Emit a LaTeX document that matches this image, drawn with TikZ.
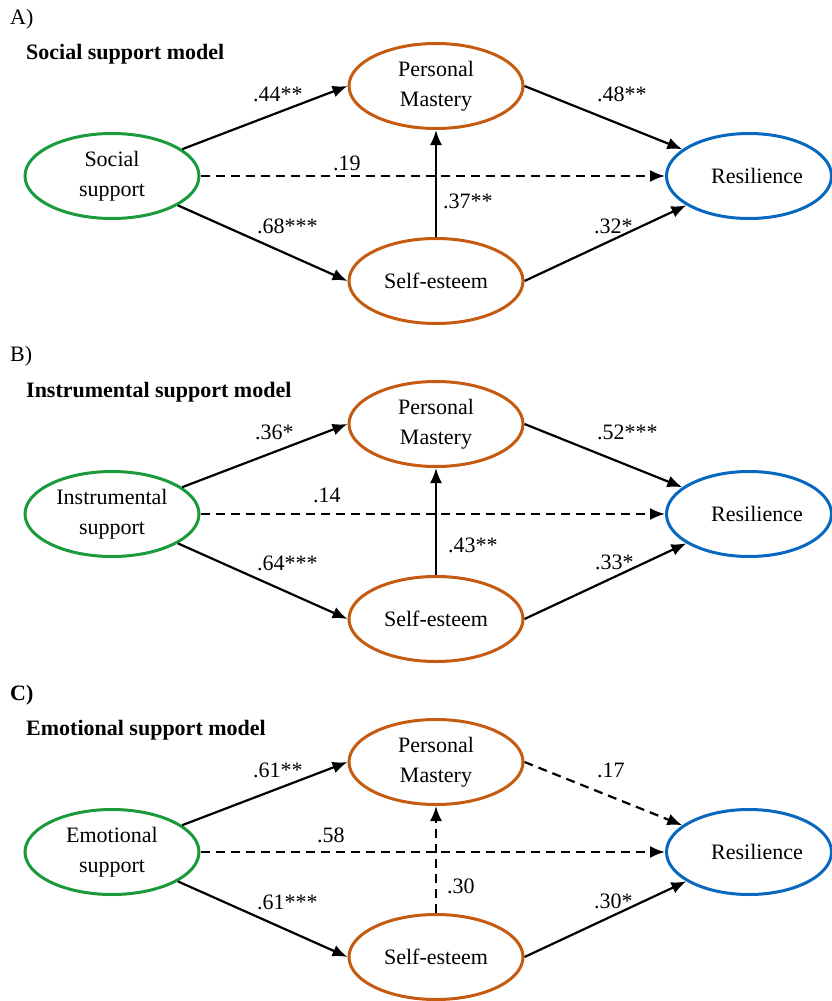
\documentclass[tikz,border=0pt]{standalone}
\usepackage{fontspec}
\setmainfont{Liberation Serif}
\usetikzlibrary{shapes.geometric,arrows.meta}
\definecolor{cgreen}{HTML}{1A9A3A}
\definecolor{corange}{HTML}{C55A11}
\definecolor{cblue}{HTML}{0868C0}
\begin{document}
\begin{tikzpicture}[x=1pt,y=-1pt,
  every node/.style={font=\fontsize{22}{30}\selectfont},
  latent/.style={ellipse,draw,line width=3pt,minimum width=174pt,minimum height=85pt,inner sep=0pt,align=center},
  srcnode/.style={latent,draw=cgreen},
  mednode/.style={latent,draw=corange},
  outnode/.style={latent,draw=cblue,minimum width=165pt},
  path/.style={line width=2.2pt,-{Latex[length=15pt,width=12pt]}},
  nspath/.style={path,dash pattern=on 9pt off 6pt},
  coef/.style={anchor=base west,inner sep=0pt},
  panel/.style={anchor=base west,inner sep=0pt},
  heading/.style={anchor=base west,inner sep=0pt,font=\fontsize{22}{30}\selectfont\bfseries}]
\useasboundingbox (0,0) rectangle (832,1001);

% ---------- Panel A ----------
\node[panel] (labA) at (10,24) {A)};
\node[heading] (headA) at (26,59) {Social support model};
\node[srcnode] (socA) at (112,176) {Social\\support};
\node[mednode] (pmA) at (436,86) {Personal\\Mastery};
\node[mednode] (seA) at (436,281) {Self-esteem};
\node[outnode] (resA) at (749,176) {\hspace*{16pt}Resilience};
\draw[path] (socA) -- (pmA.west);
\draw[path] (socA) -- (seA.west);
\draw[nspath] (socA.east) -- (resA.west);
\draw[path] (pmA.east) -- (resA);
\draw[path] (seA.east) -- (resA);
\draw[path] (seA.north) -- (pmA.south);
\node[coef] (a1) at (253,101) {.44**};
\node[coef] (a2) at (333,170) {.19};
\node[coef] (a3) at (257,233) {.68***};
\node[coef] (a4) at (597,101) {.48**};
\node[coef] (a5) at (443,208) {.37**};
\node[coef] (a6) at (594,233) {.32*};

% ---------- Panel B ----------
\node[panel] (labB) at (10,361) {B)};
\node[heading] (headB) at (26,397) {Instrumental support model};
\node[srcnode] (socB) at (112,514) {Instrumental\\support};
\node[mednode] (pmB) at (436,424) {Personal\\Mastery};
\node[mednode] (seB) at (436,619) {Self-esteem};
\node[outnode] (resB) at (749,514) {\hspace*{16pt}Resilience};
\draw[path] (socB) -- (pmB.west);
\draw[path] (socB) -- (seB.west);
\draw[nspath] (socB.east) -- (resB.west);
\draw[path] (pmB.east) -- (resB);
\draw[path] (seB.east) -- (resB);
\draw[path] (seB.north) -- (pmB.south);
\node[coef] (b1) at (255,439) {.36*};
\node[coef] (b2) at (313,502) {.14};
\node[coef] (b3) at (257,570) {.64***};
\node[coef] (b4) at (597,439) {.52***};
\node[coef] (b5) at (448,552) {.43**};
\node[coef] (b6) at (595,569) {.33*};

% ---------- Panel C ----------
\node[panel,font=\fontsize{22}{30}\selectfont\bfseries] (labC) at (10,700) {C)};
\node[heading] (headC) at (26,735) {Emotional support model};
\node[srcnode] (socC) at (112,852) {Emotional\\support};
\node[mednode] (pmC) at (436,762) {Personal\\Mastery};
\node[mednode] (seC) at (436,957) {Self-esteem};
\node[outnode] (resC) at (749,852) {\hspace*{16pt}Resilience};
\draw[path] (socC) -- (pmC.west);
\draw[path] (socC) -- (seC.west);
\draw[nspath] (socC.east) -- (resC.west);
\draw[nspath] (pmC.east) -- (resC);
\draw[path] (seC.east) -- (resC);
\draw[nspath] (seC.north) -- (pmC.south);
\node[coef] (c1) at (253,777) {.61**};
\node[coef] (c2) at (317,842) {.58};
\node[coef] (c3) at (257,909) {.61***};
\node[coef] (c4) at (597,777) {.17};
\node[coef] (c5) at (447,893) {.30};
\node[coef] (c6) at (594,908) {.30*};
\end{tikzpicture}
\end{document}
